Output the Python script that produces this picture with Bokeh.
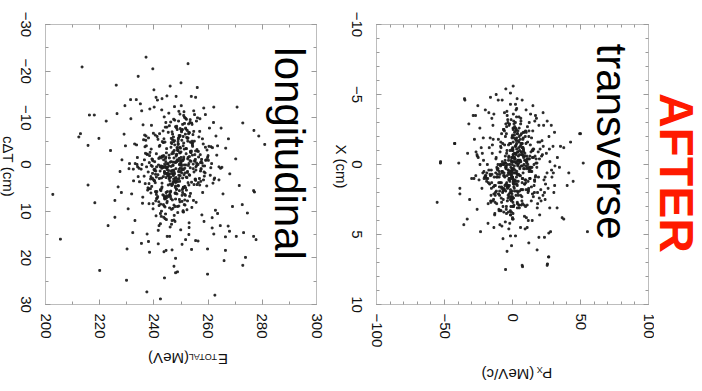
import math
from bokeh.plotting import figure
from bokeh.models import Range1d, LinearAxis, SingleIntervalTicker, Label
from bokeh.layouts import row, column
from bokeh.embed import file_html
from bokeh.resources import INLINE

# ---------------- data ----------------
# longitudinal panel: total energy (MeV) vs c*dT (cm)
e_total = [
    247.3, 251.8, 240.6, 255.2, 244.9, 249.7, 236.4, 258.1, 246.2, 252.9, 243.1, 248.8,
    243.5, 250.4, 261.3, 238.8, 248.6, 245.1, 253.7, 241.9, 257.4, 249.2, 234.7, 246.9,
    252.2, 239.4, 247.8, 256.6, 242.3, 250.9, 245.7, 263.2, 248.1, 237.9, 254.3, 244.2,
    249.9, 246.5, 233.6, 251.1, 259.8, 243.8, 248.3, 240.2, 253.1, 247.0, 242.7, 256.0,
    238.2, 254.7, 245.4, 250.1, 241.4, 248.0, 262.4, 246.6, 235.8, 252.5, 244.6, 249.4,
    255.9, 242.9, 251.4, 247.6, 239.9, 253.9, 244.4, 258.9, 249.0, 240.9, 246.0, 251.6,
    231.8, 248.4, 257.0, 243.2, 250.7, 245.9, 237.2, 254.0, 247.4, 260.5, 242.0, 249.6,
    246.4, 252.6, 240.0, 248.9, 255.6, 244.0, 251.3, 238.5, 247.2, 253.4, 265.1, 243.9,
    250.3, 241.2, 246.8, 257.7, 236.9, 249.1, 244.8, 252.0, 239.6, 248.2, 254.9, 245.3,
    242.5, 251.0, 248.5, 234.2, 256.3, 246.1, 243.4, 250.0, 261.8, 247.7, 240.4, 253.6,
    249.5, 238.7, 254.4, 245.0, 250.8, 242.2, 247.5, 259.3, 244.3, 251.9, 236.0, 248.7,
    255.4, 247.1, 241.6, 252.3, 246.3, 239.2, 249.8, 244.5, 257.9, 250.5, 243.6, 232.9,
    246.7, 253.2, 249.3, 240.8, 255.0, 245.6, 251.5, 237.6, 248.1, 262.9, 244.1, 250.2,
    241.0, 248.9, 256.8, 243.3, 247.9, 252.8, 235.3, 249.0, 245.2, 254.6, 239.0, 258.4,
    251.7, 244.7, 238.0, 249.6, 253.5, 246.4, 242.8, 260.1, 247.3, 250.6, 245.8, 233.9,
    248.6, 255.7, 243.0, 251.2, 240.5, 247.6, 254.2, 244.0, 249.8, 237.0, 252.7, 246.5,
    244.6, 250.0, 259.6, 242.4, 248.4, 245.5, 253.0, 239.8, 256.4, 247.8, 241.8, 251.4,
    253.8, 246.0, 249.2, 236.7, 250.9, 243.7, 257.2, 248.0, 244.9, 252.1, 264.0, 240.3,
    247.0, 241.5, 254.5, 249.7, 238.4, 251.8, 246.9, 243.2, 259.0, 248.5, 235.0, 250.3,
    245.3, 252.4, 247.2, 240.7, 255.3, 249.0, 244.3, 251.0, 242.6, 257.6, 246.2, 253.3,
    239.5, 248.3, 250.6, 245.7, 261.0, 243.5, 252.5, 247.4, 237.4, 254.8, 249.9, 244.8,
    250.8, 244.2, 256.1, 248.7, 241.1, 253.6, 246.8, 231.0, 249.4, 242.1, 258.6, 247.5,
    243.9, 251.2, 245.0, 258.2, 248.2, 238.9, 250.4, 255.5, 244.4, 247.9, 252.0, 240.1,
    254.1, 246.6, 242.9, 249.3, 236.2, 252.2, 247.1, 244.7, 260.8, 250.1, 245.4, 239.3,
    248.0, 255.8, 240.9, 251.7, 246.3, 243.0, 257.3, 249.5, 234.5, 253.0, 247.7, 242.3,
    252.6, 245.9, 249.7, 262.2, 241.7, 248.8, 244.1, 250.7, 238.1, 255.1, 246.7, 251.1,
    244.0, 249.1, 253.4, 239.7, 247.0, 256.9, 243.6, 251.6, 248.4, 235.6, 254.0, 245.6,
    249.6, 242.4, 246.4, 252.9, 258.5, 244.6, 250.5, 240.6, 247.6, 253.9, 237.3, 248.9,
    245.6, 250.9, 239.1, 254.8, 247.5, 243.1, 258.7, 249.3, 236.6, 252.4, 246.0, 241.3,
    253.5, 244.3, 248.1, 260.3, 242.8, 250.2, 246.7, 233.1, 255.9, 247.3, 251.5, 238.6,
    249.0, 241.8, 256.5, 245.2, 251.0, 237.7, 248.6, 243.4, 262.7, 250.7, 244.7, 254.2,
    240.7, 252.8, 247.9, 243.6, 257.1, 249.4, 235.9, 251.3, 245.5, 248.2, 259.5, 242.9,
    250.5, 246.2, 238.3, 253.2, 244.1, 249.9, 255.3, 240.5, 247.2, 264.6, 243.8, 251.9,
    243.0, 257.5, 249.6, 241.5, 252.0, 246.8, 234.0, 250.8, 244.9, 256.4, 248.3, 239.7,
    255.0, 248.7, 244.5, 250.3, 239.0, 253.1, 247.8, 261.6, 242.4, 249.1, 245.9, 232.4,
    247.4, 242.0, 251.8, 256.9, 245.3, 240.1, 249.2, 254.5, 237.8, 252.3, 246.4, 258.0,
    251.2, 245.0, 236.5, 249.8, 244.2, 258.3, 250.9, 243.7, 253.7, 241.0, 247.6, 263.5,
    238.9, 253.4, 248.0, 242.7, 255.5, 246.9, 251.4, 239.4, 249.7, 244.6, 257.8, 247.1,
    254.3, 240.3, 250.0, 245.8, 233.8, 252.6, 247.3, 260.0, 243.3, 250.6, 241.9, 248.5,
    246.1, 251.7, 243.9, 259.1, 248.9, 238.2, 254.7, 245.7, 251.0, 236.8, 249.3, 255.8,
    242.2, 249.5, 254.1, 240.9, 247.0, 252.9, 244.4, 257.4, 250.4, 246.3, 230.8, 253.8,
    250.7, 244.8, 261.1, 247.7, 242.6, 250.1, 239.5, 255.2, 248.4, 243.5, 252.4, 245.1,
    237.1, 255.4, 246.6, 251.3, 244.0, 257.2, 249.0, 241.2, 253.3, 247.8, 240.8, 250.0,
    213.5, 237.1, 239.6, 252.6, 234.2, 226.1, 231.4, 233.5, 240.8, 244.8, 248.2, 243.0,
    255.4, 229.3, 216.2, 218.0, 212.9, 212.3, 222.4, 215.7, 219.7, 270.7, 272.8, 262.1,
    276.9, 278.7, 280.9, 259.0, 226.4,
    202.7, 205.5, 215.7, 218.2, 223.1, 220.0, 229.9, 230.1, 232.2, 235.4, 237.5, 237.4,
    238.4, 241.6, 242.4, 243.7, 244.5, 246.7, 243.9, 244.9, 245.8, 247.4, 248.0, 248.7,
    248.0, 250.4, 251.7, 252.9, 255.4, 256.3, 253.9, 259.8, 259.8, 261.5, 262.1, 262.5,
    264.5, 266.4, 265.9, 266.4, 267.4, 267.9, 270.4, 272.6, 273.1, 272.8, 273.8, 274.5,
    276.8, 277.1, 276.8, 277.7, 261.5, 225.6, 225.6,
    224.0, 227.5, 229.0, 226.8, 230.5, 228.2, 266.5, 268.0, 270.2, 265.5, 269.0, 264.8,
    231.5, 233.0, 262.0, 263.5, 235.5, 258.5, 240.0, 256.0, 250.0, 246.0, 238.0, 253.0,
    228.0, 267.5, 232.5, 264.0, 229.5, 271.5,
]
c_dt = [
    1.2, -3.4, 5.8, -0.7, 7.9, -6.2, 2.5, 0.3, -9.1, 4.4, -1.8, 10.3,
    -4.7, 6.6, -0.2, 3.1, -7.5, 1.9, -2.6, 8.8, 0.9, -11.4, 3.7, -5.3,
    2.8, -1.1, 12.2, -5.9, 0.5, 4.9, -8.3, -2.0, 6.1, 1.6, -3.9, 7.3,
    -0.9, 9.6, -4.2, 2.2, -1.5, -10.2, 5.3, 3.5, -6.8, 0.1, 11.1, -2.9,
    4.1, -7.1, 1.3, -12.6, 6.9, -0.4, 2.9, -4.5, 8.3, -1.2, 0.7, 5.6,
    -3.2, 0.8, 7.6, -5.1, 3.3, -8.9, -0.6, 1.8, 4.6, -2.3, 13.4, -6.5,
    6.3, -2.1, -9.8, 0.4, 5.1, 2.0, -4.0, 9.2, -1.4, -7.8, 3.0, 0.0,
    -5.6, 3.9, 1.1, -3.0, 8.1, -0.1, 6.4, -11.9, 2.4, -4.8, 0.6, 7.1,
    0.2, -6.0, 4.3, 10.8, -2.4, 1.5, -8.0, 5.5, -0.8, 3.6, -5.0, 2.1,
    8.5, -1.6, -3.6, 2.6, 0.0, 6.8, -7.2, -0.3, 4.0, -9.5, 1.0, -2.7,
    -2.5, 5.2, -6.4, 0.6, 9.9, -4.1, 1.7, -1.0, 7.0, 2.7, -8.5, 3.2,
    3.4, -0.5, 14.1, -7.3, 1.4, 4.7, -3.5, 6.0, -5.5, 0.9, -1.9, -4.4,
    -7.0, 2.3, -1.3, 5.9, -10.7, 0.3, 8.7, -2.2, 3.8, -6.1, 11.6, 1.2,
    0.5, -4.3, 3.0, -1.7, 6.2, -8.7, 1.0, 4.5, -0.2, 7.7, -3.3, -12.1,
    5.0, 1.9, -5.7, 8.0, -2.8, 0.4, 10.0, -0.9, -4.9, 2.9, 6.5, -1.5,
    -1.0, -9.3, 4.8, 0.1, -6.3, 3.5, -2.0, 7.4, 1.6, -5.2, 0.2, 12.8,
    7.2, 0.0, -3.1, 5.4, -0.7, -11.0, 2.2, -6.7, 3.9, 9.0, -1.3, 0.8,
    -2.9, 4.2, 8.9, -3.8, 1.1, 6.7, -0.4, -8.1, 2.0, -5.8, 3.3, -0.6,
    9.4, -5.4, 0.9, 2.4, -1.9, -7.6, 4.1, 0.6, -3.7, 6.3, -13.0, 1.8,
    -6.9, 1.5, -2.4, 7.8, 3.1, -0.8, 10.6, -4.6, 0.3, -1.1, 5.7, -9.0,
    3.0, -7.9, 6.0, -1.4, 0.7, 2.6, -5.0, 11.9, -2.2, 4.3, -0.5, 8.2,
    -4.0, 0.4, -10.0, 3.7, 5.8, -2.6, 1.3, -0.2, 7.5, -6.6, 2.5, -3.0,
    1.7, 8.6, -0.1, -4.4, 2.8, 6.1, -7.4, 0.5, -1.6, 4.9, -9.7, 3.4,
    -8.6, -2.3, 5.1, 1.0, -5.3, 9.7, 0.2, -3.4, 2.3, -0.7, 6.9, -1.2,
    4.6, -0.3, 2.7, -9.9, 7.3, -1.7, 3.6, -6.0, 0.8, 12.5, -4.2, 1.4,
    -1.5, 6.4, -7.7, 3.2, 0.1, -3.6, 9.1, -0.9, 5.2, -2.1, 1.9, -11.3,
    2.0, -5.7, 0.7, 8.4, -2.7, 4.4, -1.0, 6.6, -8.2, 0.0, -4.6, 3.1,
    -3.7, 10.5, -0.6, -6.9, 1.6, -2.5, 5.4, 2.1, -12.4, 3.8, 0.5, -4.9,
    -2.0, 4.9, -8.4, 1.6, 10.9, -4.9, 0.3, 3.0, -6.3, 7.8, -0.5, -13.8,
    6.2, -1.3, 0.9, -3.9, 2.9, -7.0, 12.0, -0.2, 4.3, -9.7, 1.8, -2.6,
    -5.4, 8.0, -1.6, 2.0, -10.5, 5.5, -3.1, 0.6, 9.8, -0.9, 6.7, -4.2,
    1.4, -6.6, 3.8, 11.3, -2.1, 0.0, 7.0, -8.8, 2.5, -1.8, 4.6, -11.7,
    -7.5, 2.7, -0.4, 6.8, -4.8, 14.0, -1.1, 3.9, -5.9, 0.8, 8.9, -2.3,
    4.0, -0.6, -10.8, 2.2, -3.4, 7.6, 0.5, -6.0, 1.1, -2.8, 5.3, 9.5,
    -0.8, 9.0, 2.8, -5.2, 0.2, -1.7, 6.1, -3.6, 12.7, -9.3, 3.5, 1.0,
    8.7, -3.9, 0.1, -7.1, 4.4, -12.3, 2.3, -0.1, 5.0, 1.7, -4.7, 6.0,
    -3.3, 5.8, -1.0, 0.7, -8.0, 3.3, 10.2, -5.5, -0.7, 7.3, 2.0, -4.0,
    2.6, -9.6, 7.4, -1.4, 1.2, -6.5, 4.7, 0.4, -2.5, 11.8, -0.3, 3.7,
    -4.6, 1.3, -2.7, 9.3, 0.0, -5.7, 3.1, -1.9, 6.5, -8.6, 13.1, -0.6,
    5.9, -7.8, 1.5, -0.9, -3.0, 8.4, -11.5, 2.9, -1.2, 4.1, -6.2, 0.2,
    -1.6, 3.6, -5.0, 6.4, 2.1, -0.2, -9.0, 1.0, 7.9, -3.7, 0.9, -14.6,
    10.1, 0.7, -3.8, -0.5, 5.6, -7.3, 1.9, 3.2, -2.2, 8.6, -5.6, 2.4,
    -6.1, -2.9, 4.5, -10.1, 0.6, 1.4, -4.4, 7.2, -0.8, 3.0, 11.0, -1.5,
    -20.9, -23.0, -20.5, -21.6, -18.9, -17.0, -13.9, -13.9, -14.4, -14.7, -14.6, -14.1,
    -14.4, -12.6, -10.6, -10.6, -6.6, -5.9, -9.3, -4.1, -5.6, -12.3, -8.9, -12.3,
    -7.3, -6.1, -4.3, -10.7, -10.9,
    6.4, 16.0, 4.4, 8.2, 13.1, 22.7, 24.8, 18.1, 14.6, 16.9, 14.9, 27.3,
    18.8, 17.0, 28.8, 18.7, 18.4, 18.3, 24.3, 15.4, 15.4, 21.8, 23.2, 23.0,
    20.1, 17.1, 16.1, 15.0, 16.3, 16.4, 18.2, 18.1, 23.5, 13.6, 14.9, 28.0,
    13.1, 18.4, 20.6, 15.5, 13.2, 14.3, 15.4, 8.6, 14.6, 21.6, 19.9, 10.4,
    5.6, 5.9, 15.4, 16.1, 11.4, 11.3, 7.7,
    -3.0, 1.5, -6.5, 4.8, 9.5, -1.0, -3.5, 2.0, -1.2, 6.3, 9.0, -7.8,
    -9.8, 12.0, -9.0, 10.5, -11.5, 12.2, -16.0, -16.5, -17.5, -16.8, 16.5, 13.5,
    6.0, -5.5, 3.5, 0.5, -4.0, 4.5,
]

# transverse panel: P_x (MeV/c) vs X (cm)
p_x = [
    3.2, -8.4, 14.7, -1.9, 9.6, -15.3, 0.8, 21.4, -5.6, 6.1, -11.8, 2.5,
    -3.7, 11.2, -19.6, 4.9, 0.3, -7.2, 17.9, -2.4, 8.3, -13.1, 1.6, 25.4,
    7.5, -0.6, -10.4, 13.0, -4.8, 2.1, -22.5, 5.7, 10.8, -1.3, 15.6, -6.9,
    -12.7, 4.4, 0.0, -2.9, 19.1, -8.8, 6.6, -16.0, 1.2, 9.0, -4.1, 28.7,
    0.9, 16.3, -6.3, 3.6, -25.2, 11.7, -0.2, 7.8, -9.9, 2.8, 13.4, -3.3,
    5.3, -14.4, 8.9, -0.9, 4.0, 22.6, -7.7, -2.0, 12.4, -18.2, 0.5, 6.9,
    -5.0, 1.8, 10.1, -11.0, 15.0, -1.6, 3.9, -26.8, 7.1, -3.9, 18.5, 0.2,
    9.8, -2.7, -17.4, 5.0, -0.4, 12.9, -8.1, 2.3, 24.0, -5.4, -13.7, 4.6,
    -0.8, 7.3, 3.0, -20.9, 10.6, -4.4, 1.4, 14.2, -9.4, 0.6, -2.2, 17.0,
    11.9, -6.6, -1.0, 6.2, -12.3, 20.3, 4.2, -3.6, -0.1, 8.6, -16.8, 2.9,
    -9.1, 3.4, 16.8, -0.3, 5.9, -14.9, 9.3, -5.8, 31.2, 1.0, -7.5, 12.1,
    2.0, -21.8, 6.4, 11.4, -2.6, 0.4, -10.9, 18.0, -4.6, 7.7, 3.7, -1.5,
    14.4, -3.0, -8.6, 1.5, 23.1, -6.0, 4.8, -15.8, 9.5, -0.7, 0.1, -28.3,
    -1.7, 8.1, 2.6, -13.2, -4.9, 15.8, 0.7, 6.8, -19.0, 3.1, 10.4, -8.0,
    6.0, -0.5, 19.8, -7.0, 1.9, -2.1, 12.6, -11.5, 4.3, 26.2, -5.2, 0.0,
    -16.5, 10.0, -3.4, 5.5, 13.8, -9.7, -0.3, 2.4, -23.9, 7.9, 16.1, -4.3,
    4.1, -6.8, 0.6, 21.7, -1.2, 8.8, -12.0, 3.3, 11.0, -3.1, -17.7, 6.5,
    -2.3, 13.3, -8.9, 0.2, 7.0, -4.0, 27.5, -14.0, 1.1, 9.9, -0.6, 3.8,
    18.7, -10.6, 4.7, -5.3, 0.8, 14.9, -20.4, 2.2, -1.9, 11.6, 5.6, -7.4,
    -0.1, 6.3, -15.1, 9.2, -3.5, 1.3, 17.2, -6.5, 3.0, -11.3, 22.4, -2.8,
    8.4, -4.2, 0.5, -9.0, 12.2, 2.7, -1.1, 29.8, -18.9, 5.1, -5.9, 1.7,
    -7.9, 15.4, 3.5, -0.2, -13.5, 7.4, 0.3, -4.7, 10.7, -24.6, 4.5, 19.4,
    1.0, -2.5, 11.8, -16.2, 6.7, -0.9, 3.6, 13.6, -8.3, 0.0, -3.8, 8.0,
    -11.1, 5.8, -1.4, 2.0, 20.8, -6.1, 9.4, -2.7, 0.4, -14.6, 16.6, 4.0,
    3.9, -19.3, 7.6, -3.2, 1.5, 12.7, -9.6, 0.1, 24.9, -5.1, 2.6, -0.4,
    -4.5, 10.3, -7.6, 17.6, 0.6, -1.8, 5.4, -12.5, 8.2, 3.2, -27.0, 14.0,
    0.3, -3.1, 6.9, -10.1, 22.0, 1.1, -5.7, 4.5, -15.5, 11.3, -0.8, 7.2,
    -6.2, 2.3, -0.1, 9.7, -8.7, 15.3, 3.3, -2.0, 0.9, -21.0, 6.2, 12.8,
    -2.6, 9.1, -13.9, 4.7, 0.0, 18.2, -6.7, 2.9, -21.3, 7.6, -1.0, 12.5,
    5.2, -9.5, 1.3, -4.3, 15.9, -0.7, 10.2, -17.1, 3.4, 23.5, -5.5, 0.6,
    -11.6, 2.1, 7.9, -1.8, -6.4, 13.1, 0.2, -25.9, 4.9, -3.0, 8.7, 19.7,
    1.5, -4.8, 16.4, -10.3, 3.8, -0.3, 6.5, -14.2, 11.5, 0.9, -7.8, 27.1,
    -0.5, 12.0, -3.6, 7.0, -18.5, 2.6, -8.2, 21.0, -1.3, 5.8, 14.6, -10.0,
    8.5, -15.6, 0.4, 3.1, -5.0, 10.9, -22.2, 6.0, -2.3, 17.4, 1.8, -8.6,
    -4.0, 4.3, 13.7, -12.8, 0.1, 7.2, -0.9, -19.8, 9.6, 2.4, -6.0, 24.3,
    10.6, -1.6, -9.1, 5.4, 20.1, -3.3, 1.7, -15.2, 6.8, -0.2, 3.5, -26.1,
    -7.3, 15.1, 2.8, -2.5, 8.2, -12.2, 11.9, 0.5, -4.1, 30.0, -16.4, 4.1,
    2.2, -20.0, 6.1, 9.8, -0.6, -8.0, 3.9, 18.9, -5.6, 12.3, 0.0, -11.9,
    13.0, -3.8, -14.8, 1.2, 7.5, -1.4, 22.9, -9.3, 4.6, -0.4, -23.0, 8.9,
    -1.2, 6.6, 0.8, -6.9, 16.9, -10.7, 2.5, 11.1, -3.2, 5.2, -17.9, 1.4,
    7.8, -12.6, 4.0, -0.1, -4.6, 14.5, -8.4, 0.7, 26.8, -2.1, 9.3, -5.3,
    -9.8, 3.0, 18.4, -2.9, 1.0, -15.9, 5.7, 10.5, -0.8, -6.3, 13.9, 2.7,
    0.4, -7.1, 11.7, -21.5, 4.8, 8.0, -1.7, -4.5, 16.2, -13.0, 6.3, 0.9,
    -4.9, -1.5, -16.2, -35.3, -10.5, -7.6, -25.5, 3.4, 7.1, -1.5, 2.2, -17.4,
    -13.7, -28.9, -27.2, 22.5, 25.5, -32.1, 30.9, 42.7, 50.0, -42.4, -52.9, -39.5,
    35.3, 37.7,
    -55.4, -38.7, -38.7, -35.8, -33.3, -23.5, -4.0, -0.7, -5.1, 7.1, 12.0, 18.1,
    25.5, 26.7, 23.5, 26.7, 28.0, 19.4, -1.5, 2.2, -2.7, 5.9, -13.7, -9.3,
    36.5, 37.7, 44.6, 41.4, 40.2, 32.8, 27.4, 30.4, 10.8, 14.5, 7.4, 55.1,
    26.5, 25.7, -53.0, -35.0, 52.0, 49.4, -42.6,
    -30.0, -28.0, -31.5, 33.0, 31.0, 34.5, -26.0, 28.5, -20.0, 15.0, -12.0, 10.0,
    -18.0, 20.0, 0.5, -7.0, -33.0, 29.0, -24.0, 24.0,
]
x_pos = [
    0.5, -1.2, 2.1, 0.0, -2.4, 1.3, 3.0, -0.6, 1.8, -3.3, 0.9, -0.1,
    1.6, -0.4, 0.8, -2.0, 2.7, -1.5, 0.2, 1.1, -0.9, 3.6, -2.7, 0.6,
    -0.7, 2.4, -1.8, 1.0, 0.3, -3.0, 1.7, -0.2, 2.9, 0.7, -1.1, 1.9,
    2.2, -0.3, 3.9, -1.4, 0.9, 0.1, -2.2, 2.6, -0.8, 1.4, -3.8, 0.4,
    -1.9, 1.2, 0.0, 2.8, -0.5, 1.8, -1.0, 0.6, 3.3, -2.5, 0.2, 1.5,
    0.8, -2.8, 1.4, -0.2, 2.0, -1.3, 0.5, 4.2, -0.4, 1.0, -1.6, 2.3,
    -0.1, 1.9, -2.3, 0.7, -1.0, 2.5, 0.0, -0.9, 1.3, -3.5, 2.8, 0.3,
    1.1, -0.6, 0.4, 3.1, -1.9, 0.2, 1.6, -2.6, 0.9, -0.3, 2.1, -1.2,
    2.6, 0.1, -1.5, 1.0, -0.2, 3.5, -2.1, 0.5, 1.9, -0.7, -2.9, 0.8,
    -0.4, 1.7, 2.3, -3.1, 0.6, -1.1, 1.2, 0.0, -0.5, 2.9, 1.4, -1.7,
    1.3, -2.2, 0.9, 0.3, 2.2, -0.8, 4.6, -1.4, 0.1, 1.6, -0.2, -2.4,
    -1.3, 0.6, -0.9, 2.0, 1.0, -2.6, 0.4, -0.1, 3.2, -1.8, 0.7, 1.8,
    0.2, 3.4, -1.6, -0.5, 1.1, 0.8, -3.4, 2.2, -0.3, 0.5, -1.2, 1.0,
    2.0, -1.0, 0.6, 1.5, -2.9, 0.0, 2.4, -0.7, 1.2, -4.0, 0.3, 2.7,
    -2.1, 0.9, -0.4, 3.0, 0.4, -1.5, 1.0, 0.2, -0.6, 1.7, -2.0, 3.8,
    0.7, 1.8, -3.0, -0.3, 2.6, 0.5, -1.1, 1.4, 0.0, -2.3, 2.0, -0.8,
    -0.9, 2.5, 1.1, -1.7, 0.2, 3.7, -0.5, 1.9, -2.7, 0.6, 1.3, 0.1,
    1.5, -3.6, 0.0, 2.4, -1.2, 0.8, -0.2, 1.6, 2.9, -1.5, 0.4, -2.2,
    -1.6, 0.3, 2.9, -0.6, 1.4, -2.4, 0.9, -0.8, 1.2, 4.0, -0.3, 0.5,
    2.3, -1.4, 0.7, 1.1, -3.2, 1.7, -0.1, 0.8, -1.9, 0.3, 2.2, -0.5,
    0.0, 1.3, -2.5, 3.3, 0.5, -0.7, 2.0, -1.3, 0.6, 1.9, -3.7, 1.2,
    1.7, -0.5, 1.5, -2.0, 0.9, 2.8, -1.0, 0.1, -0.4, 1.1, 0.7, -2.8,
    -2.6, 2.1, 0.3, 0.8, -1.5, 1.0, 3.1, -0.9, 2.4, -0.2, 1.5, -1.1,
    0.9, -1.8, 3.6, -0.4, 1.8, -0.1, -2.0, 0.7, 1.3, 2.6, -0.6, 0.0,
    -0.3, 1.0, -1.2, 2.2, -2.3, 0.4, 1.6, 3.0, -0.8, 0.2, -1.4, 2.5,
    3.0, -0.2, 0.6, -3.3, 1.2, -1.0, 0.3, 2.0, -0.5, 1.4, 0.8, -1.9,
    -1.1, 0.4, 2.6, 1.3, -0.7, -2.9, 0.9, -0.3, 1.7, 0.0, 3.4, -1.5,
    0.6, -2.4, 1.9, 0.1, -1.3, 2.3, -0.2, 1.0, -3.1, 0.5, 1.8, -0.6,
    1.1, -0.8, 2.5, -1.6, 0.4, 3.1, -2.5, 0.9, -0.3, 1.8, -3.2, 0.2,
    -1.0, 2.2, 0.1, -2.7, 1.5, -0.5, 3.8, -1.2, 0.7, 2.0, -0.1, -3.6,
    2.8, -0.2, -1.9, 0.6, 3.4, -1.4, 1.0, -0.6, -2.6, 1.6, 0.3, 2.4,
    -0.4, 1.4, -3.1, 2.1, -0.9, 0.5, 2.9, -1.8, 1.2, -0.2, 4.4, -1.1,
    0.7, -2.0, 1.7, -0.7, 0.0, -3.9, 1.3, 2.6, -1.5, 0.8, -0.5, 3.2,
    -2.3, 0.4, 3.5, -1.1, 1.9, 0.2, -0.8, -2.9, 2.3, -0.4, 1.1, 0.0,
    1.6, -1.7, 0.5, 2.7, -2.1, 1.0, -0.3, 0.9, 3.0, -1.3, -2.4, 1.4,
    -0.6, 3.3, -0.9, 0.2, -1.6, 2.4, 0.6, -3.3, 1.8, 0.0, 2.7, -0.7,
    2.0, -1.1, 1.2, -2.8, 0.3, -0.4, 1.7, 3.9, -1.0, 0.6, -1.9, 2.2,
    -1.8, 0.8, -0.2, 1.3, 2.5, -2.2, 0.1, -0.9, 1.5, -3.0, 0.9, 1.9,
    0.3, 2.6, -1.4, -0.5, 1.0, 3.6, -2.8, 0.7, -0.1, 2.1, -1.2, -0.3,
    3.0, -0.9, 0.6, 1.8, -3.5, 0.0, 2.2, -1.6, 0.4, -0.7, 2.8, 1.2,
    -1.2, 1.5, -2.4, 0.9, 0.2, -1.0, 3.3, 1.1, -2.0, 0.5, -0.6, 4.1,
    0.9, -3.4, 2.0, -0.3, 1.4, 2.7, -1.3, -0.1, 0.8, -2.5, 1.6, -0.8,
    -0.7, 0.0, 1.9, -1.9, 2.9, -0.6, 0.5, -2.2, 1.1, 3.5, -1.5, 0.3,
    -5.4, -5.1, -4.8, -4.7, -4.6, -4.6, -4.2, -4.7, -4.6, -4.3, -4.3, -3.7,
    -3.6, -3.5, -3.5, -3.7, -3.1, -2.9, -2.3, -1.6, -2.2, -1.5, -0.2, -0.1,
    -1.3, -1.2,
    2.7, 1.7, 2.1, 4.3, 3.9, 4.8, 6.2, 5.8, 7.5, 7.2, 5.6, 6.1,
    7.2, 6.6, 5.2, 4.9, 4.8, 5.2, 5.1, 5.1, 4.6, 4.5, 4.5, 4.3,
    3.8, 3.9, 1.2, 0.6, 1.5, 3.1, 3.1, 2.0, 4.5, 4.0, 7.3, 4.8,
    6.6, 7.1, -0.1, -4.6, -0.1, -2.2, -1.5,
    1.0, -1.8, 2.5, -0.5, 1.5, 0.2, 3.2, -2.8, -3.9, -4.2, -5.0, -3.9,
    4.2, 3.6, -5.6, 5.3, -0.8, 0.9, -2.6, 2.5,
]

# axis ticks
e_ticks = [200, 220, 240, 260, 280, 300]
dt_ticks = [-30, -20, -10, 0, 10, 20, 30]
px_ticks = [-100, -50, 0, 50, 100]
x_ticks = [-10, -5, 0, 5, 10]

FONT = "Liberation Sans"
FRAME = "#bdbdbd"
TICK = "#9a9a9a"
DOT = "#1e1e1e"
INK = "#111111"


def fmt(v):
    return ("\u2212" + str(abs(v))) if v < 0 else str(v)


def frame_axis(p, side, interval, minor, labels, show_labels, standoff=0):
    ax = LinearAxis(ticker=SingleIntervalTicker(interval=interval, num_minor_ticks=minor))
    ax.axis_line_color = FRAME
    ax.major_tick_line_color = TICK
    ax.minor_tick_line_color = TICK
    ax.major_tick_in = 5
    ax.major_tick_out = 0
    ax.minor_tick_in = 3
    ax.minor_tick_out = 0
    ax.axis_label_standoff = 0
    ax.major_label_text_font = FONT
    ax.major_label_text_font_size = "15px"
    ax.major_label_text_color = INK
    ax.major_label_standoff = standoff
    if show_labels:
        ax.major_label_orientation = -math.pi / 2
        ax.major_label_overrides = {v: fmt(v) for v in labels}
    else:
        # empty labels, oriented so that they take no room
        ax.major_label_orientation = "horizontal" if side in ("left", "right") else -math.pi / 2
        ax.major_label_overrides = {v: "" for v in labels}
    p.add_layout(ax, side)
    return ax


def make_panel(xr, yr, xint, xminor, yint, yminor, xlabels, ylabels, width, bl, br, xstand):
    p = figure(width=width, height=350, output_backend="svg", toolbar_location=None,
               x_range=xr, y_range=yr, x_axis_location=None, y_axis_location=None,
               min_border_left=bl, min_border_right=br, min_border_top=24,
               min_border_bottom=46)
    p.grid.visible = False
    p.outline_line_color = FRAME
    p.background_fill_color = "white"
    p.border_fill_color = "white"
    frame_axis(p, "below", xint, xminor, xlabels, True, xstand)
    frame_axis(p, "above", xint, xminor, xlabels, False)
    frame_axis(p, "left", yint, yminor, ylabels, False)
    frame_axis(p, "right", yint, yminor, ylabels, False)
    return p


def txt(p, x, y, s, size, angle, align="center", baseline="middle", color=INK, style="normal"):
    p.add_layout(Label(x=x, y=y, text=s, angle=angle, text_font=FONT,
                       text_font_size=size, text_align=align, text_baseline=baseline,
                       text_color=color, text_font_style=style))


def text_strip(width, height, yr=None, bt=0, bb=0, br=0):
    # axis-less strip that carries title text (and optionally the y tick labels)
    s = figure(width=width, height=height, output_backend="svg", toolbar_location=None,
               x_range=Range1d(0, 1), y_range=yr if yr is not None else Range1d(0, 1),
               x_axis_location=None, y_axis_location=None, min_border=0,
               min_border_top=bt, min_border_bottom=bb, min_border_right=br)
    s.grid.visible = False
    s.outline_line_color = None
    s.border_fill_color = "white"
    s.background_fill_color = "white"
    return s


def tick_label_axis(s, interval, labels):
    # y tick labels, drawn to the left of the neighbouring frame, reading downwards
    ax = LinearAxis(ticker=SingleIntervalTicker(interval=interval, num_minor_ticks=0))
    ax.axis_line_color = None
    ax.major_tick_line_color = None
    ax.minor_tick_line_color = None
    ax.major_tick_in = 0
    ax.major_tick_out = 0
    ax.axis_label_standoff = 0
    ax.major_label_text_font = FONT
    ax.major_label_text_font_size = "15px"
    ax.major_label_text_color = INK
    ax.major_label_orientation = "parallel"
    ax.major_label_standoff = 1
    ax.major_label_overrides = {v: fmt(v) for v in labels}
    s.add_layout(ax, "right")


# ---------------- c*dT title + its tick labels ----------------
t1 = text_strip(37, 391, Range1d(30, -30), bt=24, bb=87, br=18)
tick_label_axis(t1, 10, dt_ticks)
txt(t1, 0.447, 0.43, "c\u0394T (cm)", "15px", -math.pi / 2)

# ---------------- left: longitudinal ----------------
p1 = make_panel(Range1d(200, 300), Range1d(30, -30), 20, 2, 10, 2, e_ticks, dt_ticks,
                291, 8, 12, 9)
p1.scatter(e_total, c_dt, marker="square", size=1.8, color=DOT, alpha=0.9)
txt(p1, 290.0, -25.1, "longitudinal", "42px", -math.pi / 2, align="left", baseline="alphabetic",
    color="#000000")
s1 = text_strip(291, 41)
txt(s1, 0.655, 0.780, "E", "15px", math.pi)
txt(s1, 0.581, 0.841, "TOTAL", "9px", math.pi)
txt(s1, 0.454, 0.805, "(MeV)", "15px", math.pi)

# ---------------- X title + its tick labels ----------------
t2 = text_strip(40, 391, Range1d(10, -10), bt=24, bb=87, br=18)
tick_label_axis(t2, 5, x_ticks)
txt(t2, 0.59, 0.14, "X (cm)", "15px", -math.pi / 2)

# ---------------- right: transverse ----------------
p2 = make_panel(Range1d(-100, 100), Range1d(10, -10), 50, 5, 5, 5, px_ticks, x_ticks,
                286, 8, 6, 9)
p2.scatter(p_x, x_pos, marker="square", size=1.8, color=DOT, alpha=0.9)
txt(p2, 72.8, -8.64, "transverse", "42px", -math.pi / 2, align="left", baseline="alphabetic",
    color="#000000")
s2 = text_strip(286, 41)
txt(s2, 0.628, 0.439, "P", "15px", math.pi)
txt(s2, 0.600, 0.524, "X", "9px", math.pi)
txt(s2, 0.483, 0.415, "(MeV/c)", "15px", math.pi)

# ---------------- strip with AFTER ----------------
t3 = text_strip(48, 391)
txt(t3, 0.458, 0.47, "AFTER", "48px", -math.pi / 2, color="#ff1a00", style="bold")

layout = row(t1, column(p1, s1, spacing=0), t2, column(p2, s2, spacing=0), t3, spacing=0)
open("out.html", "w").write(file_html(layout, INLINE))
